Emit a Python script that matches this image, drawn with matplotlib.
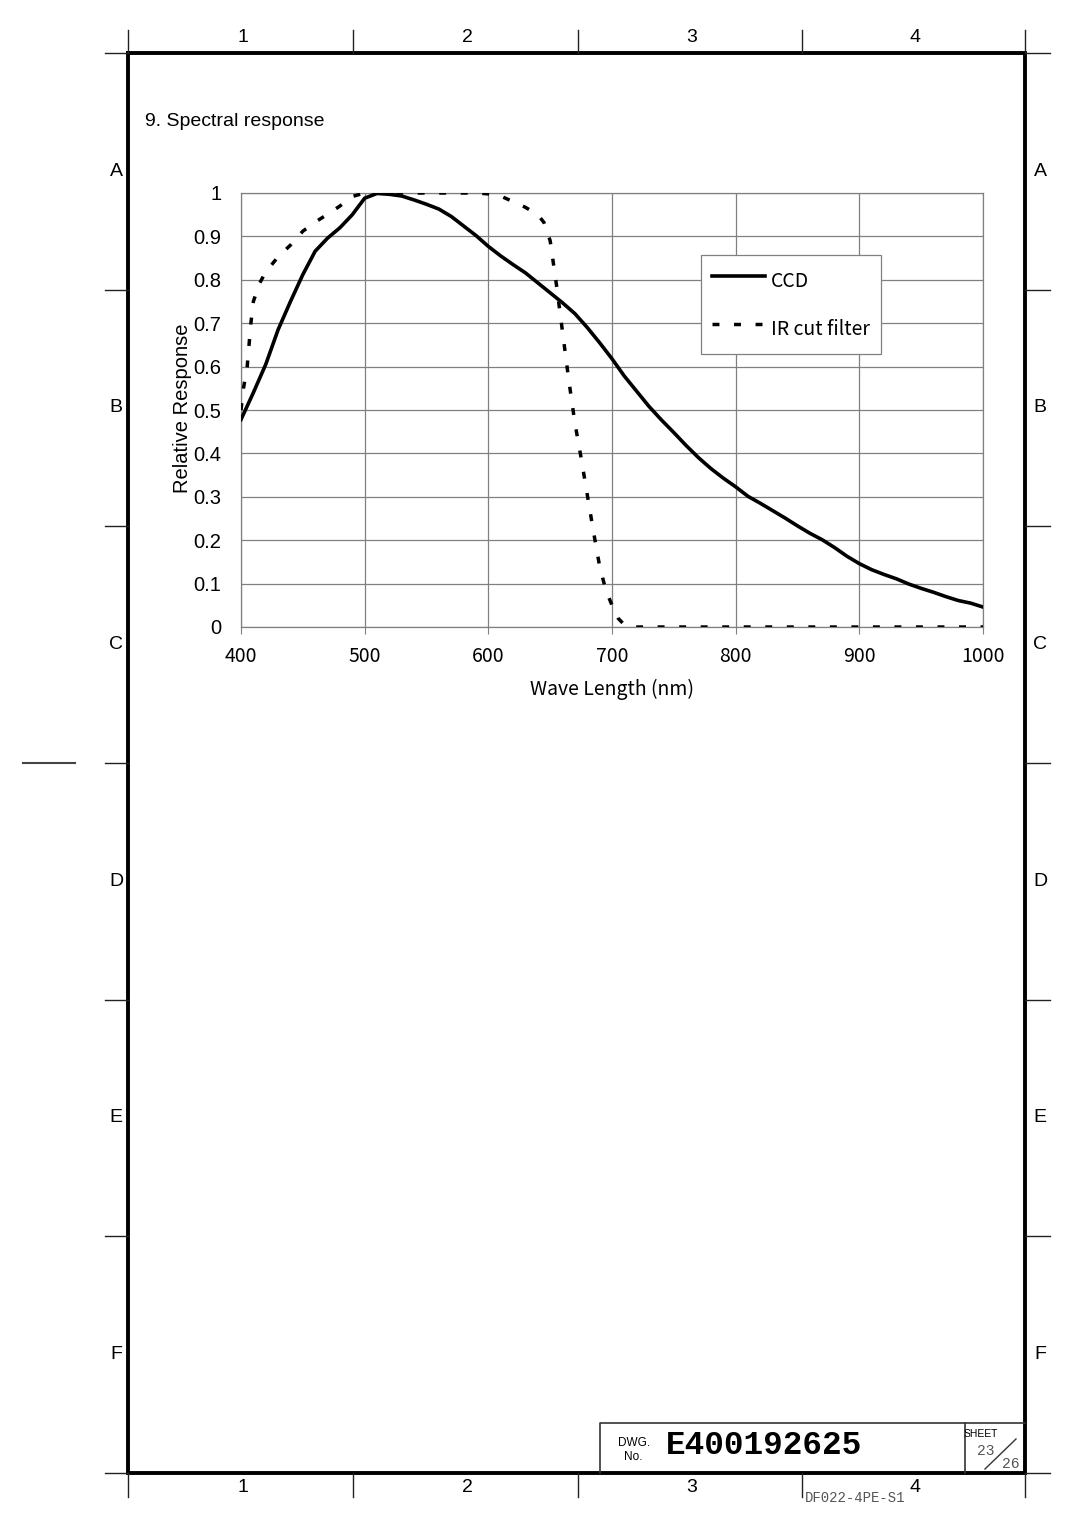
import numpy as np
import matplotlib
matplotlib.use("Agg")
import matplotlib.pyplot as plt

# CCD relative response, every 10 nm
ccd_nm = list(range(400, 1001, 10))
ccd_resp = [0.478, 0.54, 0.605, 0.685, 0.75, 0.812, 0.866, 0.896, 0.92, 0.95,
            0.988, 0.999, 0.997, 0.993, 0.984, 0.974, 0.963, 0.946, 0.924, 0.902,
            0.877, 0.855, 0.835, 0.816, 0.793, 0.77, 0.747, 0.722, 0.69, 0.655,
            0.618, 0.578, 0.543, 0.508, 0.477, 0.448, 0.418, 0.39, 0.365, 0.343,
            0.323, 0.301, 0.285, 0.268, 0.251, 0.233, 0.216, 0.201, 0.183, 0.163,
            0.146, 0.132, 0.121, 0.111, 0.099, 0.089, 0.08, 0.07, 0.061, 0.055,
            0.046]

# IR cut filter transmission
ir_nm = [400, 402, 405, 408, 410, 415, 420, 430, 440, 450, 460, 470, 480, 490,
         500, 510, 520, 530, 540, 550, 560, 570, 580, 590, 600, 610, 620, 630,
         640, 645, 650, 655, 660, 665, 670, 675, 680, 685, 690, 695, 700, 705,
         710, 720, 750, 800, 850, 900, 950, 1000]
ir_resp = [0.5, 0.55, 0.6, 0.7, 0.75, 0.792, 0.818, 0.853, 0.88, 0.912, 0.933,
           0.951, 0.97, 0.992, 1.0, 1.0, 1.0, 1.0, 1.0, 1.0, 1.0, 1.0, 1.0, 1.0,
           0.998, 0.993, 0.98, 0.967, 0.95, 0.932, 0.89, 0.79, 0.68, 0.57, 0.47,
           0.39, 0.305, 0.22, 0.14, 0.085, 0.05, 0.02, 0.005, 0.0, 0.0, 0.0, 0.0,
           0.0, 0.0, 0.0]

x_ticks = [400, 500, 600, 700, 800, 900, 1000]
y_ticks = [0, 0.1, 0.2, 0.3, 0.4, 0.5, 0.6, 0.7, 0.8, 0.9, 1]
col_labels = ["1", "2", "3", "4"]
row_labels = ["A", "B", "C", "D", "E", "F"]

W, H = 1080, 1527
ARIAL = "Liberation Sans"
JP = ["Noto Sans CJK JP", "DejaVu Sans"]
MONO = "Liberation Mono"


def main():
    fig = plt.figure(figsize=(W / 100, H / 100), dpi=100)

    # drawing sheet overlay in pixel coords
    sheet = fig.add_axes([0, 0, 1, 1])
    sheet.set_xlim(0, W)
    sheet.set_ylim(H, 0)
    sheet.axis("off")
    sheet.patch.set_alpha(0)

    L, R, T, B = 128, 1025, 53, 1473
    sheet.plot([L, R, R, L, L], [T, T, B, B, T], color="black", lw=2.8,
               solid_joinstyle="miter")
    cols = [L, 353, 578, 802, R]
    for cx in cols:
        sheet.plot([cx, cx], [30, T], color="#222222", lw=1.0)
        sheet.plot([cx, cx], [B, 1497], color="#222222", lw=1.0)
    for i, lab in enumerate(col_labels):
        cx = (cols[i] + cols[i + 1]) / 2 + 2
        sheet.text(cx, 38, lab, ha="center", va="center", fontsize=14, family=ARIAL)
        sheet.text(cx, 1488, lab, ha="center", va="center", fontsize=14, family=ARIAL)
    rows = np.linspace(T, B, 7)
    for ry in rows:
        sheet.plot([105, L], [ry, ry], color="#222222", lw=1.0)
        sheet.plot([R, 1050], [ry, ry], color="#222222", lw=1.0)
    for i, lab in enumerate(row_labels):
        ry = (rows[i] + rows[i + 1]) / 2
        sheet.text(116, ry, lab, ha="center", va="center", fontsize=14, family=ARIAL)
        sheet.text(1040, ry, lab, ha="center", va="center", fontsize=14, family=ARIAL)
    sheet.plot([23, 75], [763, 763], color="#444444", lw=1.5)

    sheet.text(145, 122, "9. Spectral response", ha="left", va="center",
               fontsize=14, family=ARIAL)

    # title block
    sheet.plot([600, 600, R], [B, 1423, 1423], color="#333333", lw=1.2)
    sheet.plot([965, 965], [1423, B], color="#333333", lw=1.2)
    sheet.plot([985, 1016], [1469, 1439], color="#333333", lw=1.0)
    sheet.text(634, 1443, "DWG.", ha="center", va="center", fontsize=8.5, family=ARIAL)
    sheet.text(633, 1457, "No.", ha="center", va="center", fontsize=8.5, family=ARIAL)
    sheet.text(666, 1445, "E400192625", ha="left", va="center", fontsize=23.5,
               family=MONO, weight="bold")
    sheet.text(964, 1434, "SHEET", ha="left", va="center", fontsize=7.5, family=ARIAL)
    sheet.text(986, 1451, "23", ha="center", va="center", fontsize=10.5,
               family=MONO, color="#555555")
    sheet.text(1011, 1464, "26", ha="center", va="center", fontsize=10.5,
               family=MONO, color="#555555")
    sheet.text(805, 1498, "DF022-4PE-S1", ha="left", va="center", fontsize=10,
               family=MONO, color="#555555")

    # chart
    ax_l, ax_r, ax_t, ax_b = 241, 983, 193, 627
    ax = fig.add_axes([ax_l / W, 1 - ax_b / H, (ax_r - ax_l) / W, (ax_b - ax_t) / H])
    ax.plot(ccd_nm, ccd_resp, color="black", lw=2.6, label="CCD", zorder=3)
    ax.plot(ir_nm, ir_resp, color="black", lw=2.5, dashes=(2.0, 4.2),
            label="IR cut filter", zorder=3)
    ax.set_xlim(400, 1000)
    ax.set_ylim(0, 1)
    ax.set_xticks(x_ticks)
    ax.set_yticks(y_ticks)
    ax.set_yticklabels(["%g" % v for v in y_ticks], family=ARIAL, fontsize=14.5)
    ax.set_xticklabels([str(v) for v in x_ticks], family=JP, fontsize=14)
    ax.grid(True, color="#808080", lw=0.9)
    for s in ax.spines.values():
        s.set_color("#808080")
        s.set_linewidth(0.9)
    ax.tick_params(axis="x", length=5, color="#808080", pad=9)
    ax.tick_params(axis="y", length=0, pad=14)
    ax.set_xlabel("Wave Length (nm)", family=JP, fontsize=14)
    ax.xaxis.set_label_coords(0.5, -0.12)
    ax.set_ylabel("Relative Response", family=ARIAL, fontsize=14.5)
    ax.yaxis.set_label_coords(-0.066, 0.505)

    leg = ax.legend(loc="upper left", bbox_to_anchor=(0.62, 0.857),
                    borderaxespad=0, fancybox=False, edgecolor="#808080",
                    framealpha=1, prop={"family": JP, "size": 14},
                    handlelength=2.75, handleheight=2.0, handletextpad=0.3,
                    labelspacing=0.92, borderpad=0.55)
    leg.get_frame().set_linewidth(0.9)

    fig.savefig("out.png", dpi=100)


if __name__ == "__main__":
    main()
